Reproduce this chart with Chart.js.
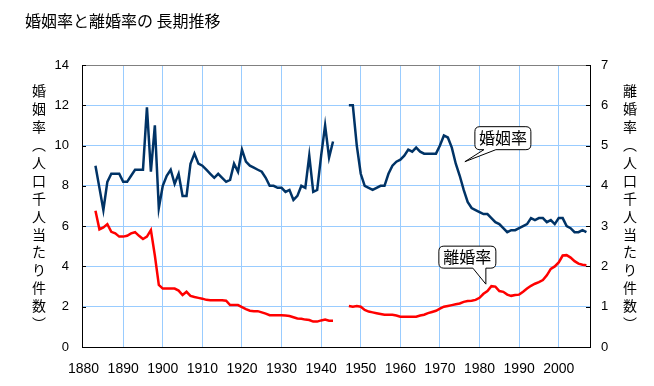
<!DOCTYPE html>
<html><head><meta charset="utf-8">
<script src="https://cdn.jsdelivr.net/npm/chart.js@4/dist/chart.umd.min.js"></script>
<style>html,body{margin:0;padding:0;background:#fff;overflow:hidden}</style>
</head><body>
<canvas id="c" width="654" height="386"></canvas>
<script>
const chartTitle = '婚姻率と離婚率の 長期推移';
const leftAxisTitle = '婚姻率︵人口千人当たり件数︶';
const rightAxisTitle = '離婚率︵人口千人当たり件数︶';
const marriageLabel = '婚姻率';
const divorceLabel = '離婚率';
const xTickYears = [1880,1890,1900,1910,1920,1930,1940,1950,1960,1970,1980,1990,2000];
const leftTicks = [0,2,4,6,8,10,12,14];
const rightTicks = [0,1,2,3,4,5,6,7];

const years = [
1883,1884,1885,1886,1887,1888,1889,1890,1891,1892,
1893,1894,1895,1896,1897,1898,1899,1900,1901,1902,
1903,1904,1905,1906,1907,1908,1909,1910,1911,1912,
1913,1914,1915,1916,1917,1918,1919,1920,1921,1922,
1923,1924,1925,1926,1927,1928,1929,1930,1931,1932,
1933,1934,1935,1936,1937,1938,1939,1940,1941,1942,
1943,1944,1945,1946,
1947,1948,1949,1950,1951,1952,1953,1954,1955,1956,
1957,1958,1959,1960,1961,1962,1963,1964,1965,1966,
1967,1968,1969,1970,1971,1972,1973,1974,1975,1976,
1977,1978,1979,1980,1981,1982,1983,1984,1985,1986,
1987,1988,1989,1990,1991,1992,1993,1994,1995,1996,
1997,1998,1999,2000,2001,2002,2003,2004,2005,2006,
2007];

// 婚姻率 (per 1000 population)
const marriageRate = [
9.0,7.9,6.8,8.2,8.6,8.6,8.6,8.2,8.2,8.5,
8.8,8.8,8.8,11.9,8.7,11.0,6.9,8.0,8.5,8.8,
8.1,8.6,7.5,7.5,9.1,9.6,9.1,9.0,8.8,8.6,
8.4,8.6,8.4,8.2,8.3,9.1,8.7,9.8,9.2,9.0,
8.9,8.8,8.7,8.4,8.0,8.0,7.9,7.9,7.7,7.8,
7.3,7.5,8.0,7.9,9.5,7.7,7.8,9.5,11.0,9.4,
10.2,null,null,null,
12.0,12.0,10.0,8.6,8.0,7.9,7.8,7.9,8.0,8.0,
8.6,9.0,9.2,9.3,9.5,9.8,9.7,9.9,9.7,9.6,
9.6,9.6,9.6,10.0,10.5,10.4,9.9,9.1,8.5,7.8,
7.2,6.9,6.8,6.7,6.6,6.6,6.4,6.2,6.1,5.9,
5.7,5.8,5.8,5.9,6.0,6.1,6.4,6.3,6.4,6.4,
6.2,6.3,6.1,6.4,6.4,6.0,5.9,5.7,5.7,5.8,
5.7];

// 離婚率 (per 1000 population)
const divorceRate = [
3.38,2.92,2.97,3.05,2.86,2.82,2.74,2.74,2.76,2.82,
2.85,2.76,2.68,2.74,2.90,2.27,1.54,1.45,1.45,1.45,
1.45,1.40,1.29,1.37,1.27,1.24,1.22,1.20,1.17,1.16,
1.16,1.16,1.16,1.15,1.04,1.04,1.04,0.99,0.94,0.90,
0.89,0.89,0.86,0.83,0.79,0.79,0.79,0.79,0.78,0.77,
0.74,0.71,0.70,0.68,0.67,0.63,0.63,0.66,0.68,0.65,
0.65,null,null,null,
1.02,1.00,1.02,1.00,0.92,0.88,0.86,0.84,0.82,0.80,
0.80,0.80,0.78,0.75,0.75,0.75,0.75,0.75,0.78,0.80,
0.84,0.87,0.90,0.95,1.00,1.02,1.04,1.06,1.08,1.12,
1.14,1.15,1.17,1.22,1.32,1.39,1.51,1.50,1.39,1.37,
1.30,1.27,1.29,1.30,1.37,1.45,1.52,1.57,1.61,1.66,
1.78,1.94,2.00,2.10,2.27,2.28,2.22,2.13,2.07,2.04,
2.03];

const FONT = '"Noto Sans CJK JP", "Noto Sans", sans-serif';
const NUMFONT = '"Liberation Sans", Arial, sans-serif';

function calloutPath(ctx, x0, y0, x1, y1, r, b1, b2, tx, ty) {
  ctx.beginPath();
  ctx.moveTo(x0 + r, y0);
  ctx.lineTo(x1 - r, y0);
  ctx.quadraticCurveTo(x1, y0, x1, y0 + r);
  ctx.lineTo(x1, y1 - r);
  ctx.quadraticCurveTo(x1, y1, x1 - r, y1);
  ctx.lineTo(b2, y1);
  ctx.lineTo(tx, ty);
  ctx.lineTo(b1, y1);
  ctx.lineTo(x0 + r, y1);
  ctx.quadraticCurveTo(x0, y1, x0, y1 - r);
  ctx.lineTo(x0, y0 + r);
  ctx.quadraticCurveTo(x0, y0, x0 + r, y0);
  ctx.closePath();
}

const decor = {
  id: 'decor',
  afterDraw(chart) {
    const ctx = chart.ctx;
    const xs = chart.scales.x, yl = chart.scales.y, yr = chart.scales.y1;
    const area = chart.chartArea;
    ctx.save();
    // title
    ctx.fillStyle = '#000';
    ctx.font = '16px ' + FONT;
    ctx.textAlign = 'left';
    ctx.textBaseline = 'middle';
    ctx.fillText(chartTitle, 25, 21);
    // vertical axis titles
    ctx.font = '14px ' + FONT;
    ctx.textAlign = 'center';
    const lch = Array.from(leftAxisTitle), rch = Array.from(rightAxisTitle);
    lch.forEach((c, i) => ctx.fillText(c, 39, 91 + i * 17.9));
    rch.forEach((c, i) => ctx.fillText(c, 630, 91 + i * 17.9));
    // inner tick marks
    ctx.strokeStyle = '#000';
    ctx.lineWidth = 1;
    ctx.beginPath();
    leftTicks.forEach(v => {
      const y = Math.round(yl.getPixelForValue(v)) + 0.5;
      ctx.moveTo(area.left, y); ctx.lineTo(area.left + 4, y);
    });
    rightTicks.forEach(v => {
      const y = Math.round(yr.getPixelForValue(v)) + 0.5;
      ctx.moveTo(area.right, y); ctx.lineTo(area.right - 4, y);
    });
    ctx.stroke();
    // callouts
    const drawCallout = (label, tipYear, tipVal, scale, dx0, dy0, w, h, b1, b2) => {
      const tx = xs.getPixelForValue(tipYear), ty = scale.getPixelForValue(tipVal);
      const x0 = tx + dx0, y0 = ty + dy0, x1 = x0 + w, y1 = y0 + h;
      calloutPath(ctx, x0, y0, x1, y1, 5, x0 + b1, x0 + b2, tx, ty);
      ctx.fillStyle = '#fff';
      ctx.fill();
      ctx.strokeStyle = '#000';
      ctx.lineWidth = 1;
      ctx.stroke();
      ctx.fillStyle = '#000';
      ctx.font = '16px ' + FONT;
      ctx.textAlign = 'center';
      ctx.textBaseline = 'middle';
      ctx.fillText(label, (x0 + x1) / 2, (y0 + y1) / 2);
    };
    drawCallout(marriageLabel, 1976.3, 9.2, yl, 10, -35, 56, 23, 9, 21);
    drawCallout(divorceLabel, 1981.6, 1.56, yr, -47, -38, 57, 22, 34, 47);
    ctx.restore();
  }
};

new Chart(document.getElementById('c'), {
  type: 'line',
  data: {
    datasets: [
      {
        label: marriageLabel,
        data: years.map((y, i) => ({x: y, y: marriageRate[i]})),
        borderColor: '#003366',
        borderWidth: 2.5,
        pointRadius: 0,
        tension: 0,
        spanGaps: false,
        yAxisID: 'y'
      },
      {
        label: divorceLabel,
        data: years.map((y, i) => ({x: y, y: divorceRate[i]})),
        borderColor: '#ff0000',
        borderWidth: 2.5,
        pointRadius: 0,
        tension: 0,
        spanGaps: false,
        yAxisID: 'y1'
      }
    ]
  },
  options: {
    responsive: false,
    animation: false,
    devicePixelRatio: 1,
    layout: { padding: { top: 65, left: 0, right: 0, bottom: 0 } },
    plugins: { legend: { display: false }, tooltip: { enabled: false }, title: { display: false } },
    scales: {
      x: {
        type: 'linear',
        min: 1879.6,
        max: 2007.9,
        afterBuildTicks: s => { s.ticks = xTickYears.map(v => ({value: v})); },
        afterFit: s => { s.height = 39; },
        ticks: { color: '#000', font: { family: NUMFONT, size: 14 }, padding: 14, maxRotation: 0, autoSkip: false,
                 callback: v => String(v) },
        grid: { color: ctx => (ctx.tick && ctx.tick.value === 1880) ? 'rgba(0,0,0,0)' : '#99ccff', lineWidth: 1, drawTicks: false },
        border: { color: '#000', width: 1 }
      },
      y: {
        position: 'left',
        min: 0, max: 14,
        afterBuildTicks: s => { s.ticks = leftTicks.map(v => ({value: v})); },
        afterFit: s => { s.width = 82; },
        ticks: { color: '#000', font: { family: NUMFONT, size: 13 }, padding: 13 },
        grid: { color: ctx => (ctx.tick && ctx.tick.value === 14) ? '#808080' : (ctx.tick && ctx.tick.value === 0 ? 'rgba(0,0,0,0)' : '#99ccff'), lineWidth: 1, drawTicks: false },
        border: { color: '#000', width: 1 }
      },
      y1: {
        position: 'right',
        min: 0, max: 7,
        afterBuildTicks: s => { s.ticks = rightTicks.map(v => ({value: v})); },
        afterFit: s => { s.width = 64; },
        ticks: { color: '#000', font: { family: NUMFONT, size: 13 }, padding: 11 },
        grid: { display: false, drawTicks: false },
        border: { color: '#000', width: 1 }
      }
    }
  },
  plugins: [decor]
});
</script>
</body></html>
